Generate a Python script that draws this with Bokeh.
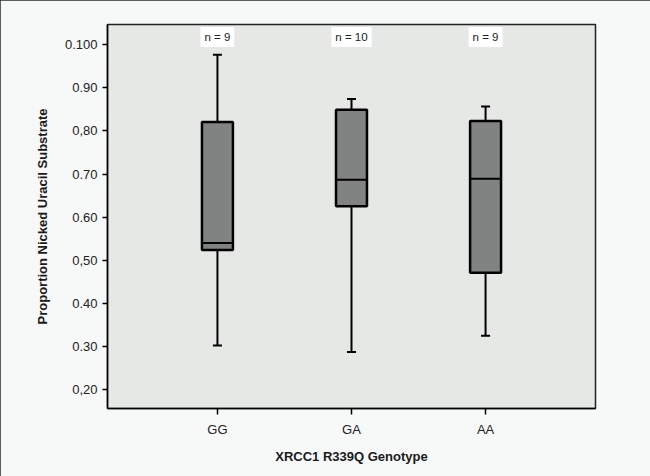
from bokeh.plotting import figure
from bokeh.models import FactorRange, Range1d, FixedTicker, InlineStyleSheet
from bokeh.core.properties import value
from bokeh.embed import file_html
from bokeh.resources import INLINE

# ---- data ----
cats = ["GG", "GA", "AA"]
whisker_low = [0.302, 0.287, 0.325]
q1 = [0.524, 0.625, 0.471]
median = [0.540, 0.687, 0.689]
q3 = [0.821, 0.849, 0.823]
whisker_high = [0.977, 0.874, 0.857]
n_labels = ["n = 9", "n = 10", "n = 9"]
y_ticks = [0.2, 0.3, 0.4, 0.5, 0.6, 0.7, 0.8, 0.9, 1.0]
y_tick_labels = ["0,20", "0.30", "0.40", "0,50", "0.60", "0.70", "0,80", "0.90", "0.100"]

FONT = "Liberation Sans"
BOX_W = 0.231
LABEL_Y = 1.018

p = figure(
    width=650, height=476,
    x_range=FactorRange(factors=cats, range_padding=0.32, range_padding_units="absolute"),
    y_range=Range1d(0.156, 1.047),
    output_backend="svg", toolbar_location=None,
    min_border_left=107, min_border_right=55, min_border_top=24, min_border_bottom=68,
)
p.stylesheets = [InlineStyleSheet(css=":host { outline: 1px solid #2a2a2a; outline-offset: -1px; }")]

p.background_fill_color = "#e6e8e6"
p.border_fill_color = "#f6f9f8"
p.outline_line_color = "#222222"
p.outline_line_width = 1.5
p.grid.visible = False

# whiskers
p.segment(x0=cats, y0=whisker_low, x1=cats, y1=q1, line_color="black", line_width=2)
p.segment(x0=cats, y0=q3, x1=cats, y1=whisker_high, line_color="black", line_width=2)
p.dash(x=cats, y=whisker_low, size=9, line_color="black", line_width=2)
p.dash(x=cats, y=whisker_high, size=9, line_color="black", line_width=2)

# boxes
p.vbar(x=cats, bottom=q1, top=q3, width=BOX_W, fill_color="#808382",
       line_color="black", line_width=2.5)
p.vbar(x=cats, bottom=median, top=median, width=BOX_W, fill_alpha=0,
       line_color="black", line_width=2)

# n labels
p.text(x=cats, y=[LABEL_Y] * len(cats), text=n_labels, text_align="center",
       text_baseline="middle", text_font=value(FONT), text_font_size="11.5px",
       text_color="#222222", background_fill_color="white", padding=4)

# axes
p.yaxis.ticker = FixedTicker(ticks=y_ticks)
p.yaxis.major_label_overrides = {t: l for t, l in zip(y_ticks, y_tick_labels)}
for ax in (p.xaxis[0], p.yaxis[0]):
    ax.axis_line_color = "black"
    ax.axis_line_width = 1.5
    ax.major_tick_line_color = "black"
    ax.major_tick_line_width = 1.5
    ax.major_tick_in = 0
    ax.minor_tick_line_color = None
    ax.major_label_text_font = FONT
    ax.major_label_text_font_size = "13px"
    ax.major_label_text_color = "#222222"
    ax.axis_label_text_font = FONT
    ax.axis_label_text_font_style = "bold"
    ax.axis_label_text_font_size = "13px"
    ax.axis_label_text_color = "#1a1a1a"

p.xaxis.major_tick_out = 6
p.xaxis.major_label_standoff = 7
p.xaxis.axis_label = "XRCC1 R339Q Genotype"
p.xaxis.axis_label_standoff = 9

p.yaxis.major_tick_out = 5
p.yaxis.major_label_standoff = 5
p.yaxis.axis_label = "Proportion Nicked Uracil Substrate"
p.yaxis.axis_label_standoff = 12

open("out.html", "w").write(file_html(p, INLINE))
